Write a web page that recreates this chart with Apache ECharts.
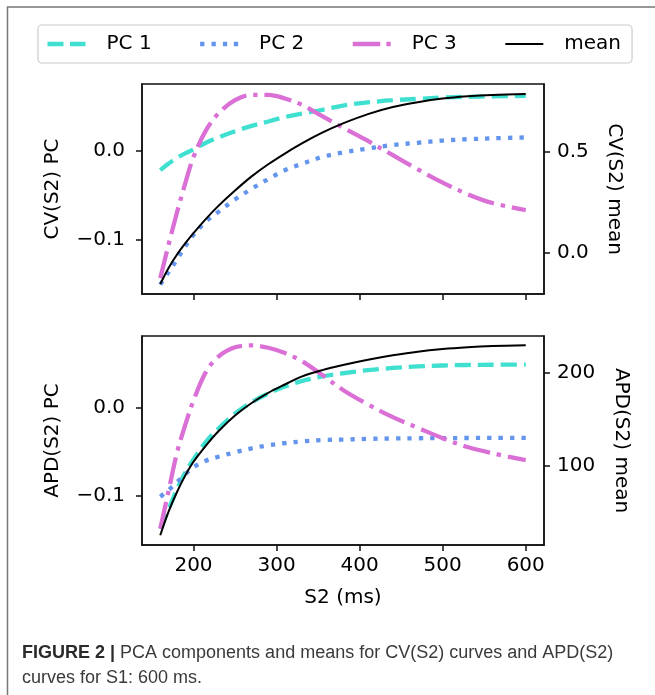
<!DOCTYPE html>
<html>
<head>
<meta charset="utf-8">
<script src="https://cdn.jsdelivr.net/npm/echarts@6/dist/echarts.min.js"></script>
<style>
  html, body { margin: 0; padding: 0; background: #fff; }
  #chart { width: 655px; height: 695px; }
</style>
</head>
<body>
<div id="chart"></div>
<script>
// S2 interval (ms) at which the curves are sampled
const s2 = [160, 170, 180, 190, 200, 215, 230, 250, 270, 290, 310, 330, 355, 380, 410, 440, 470, 500, 530, 560, 600];

// CV(S2): principal components (left axis) and mean curve (right axis)
const cvPC1 = [-0.022, -0.0145, -0.008, -0.003, 0.0015, 0.009, 0.015, 0.022, 0.028, 0.033, 0.038, 0.0418, 0.046, 0.051, 0.0545, 0.057, 0.0585, 0.060, 0.0608, 0.0614, 0.0618];
const cvPC2 = [-0.151, -0.137, -0.123, -0.108, -0.095, -0.080, -0.069, -0.055, -0.043, -0.032, -0.022, -0.015, -0.007, -0.002, 0.0025, 0.0065, 0.009, 0.0115, 0.013, 0.014, 0.015];
const cvPC3 = [-0.144, -0.106, -0.070, -0.037, -0.007, 0.023, 0.042, 0.057, 0.063, 0.063, 0.059, 0.052, 0.039, 0.026, 0.011, -0.005, -0.021, -0.036, -0.049, -0.059, -0.067];
const cvMean = [-0.155, -0.075, -0.010, 0.046, 0.097, 0.168, 0.232, 0.308, 0.378, 0.438, 0.491, 0.540, 0.594, 0.640, 0.686, 0.721, 0.745, 0.763, 0.774, 0.781, 0.786];

// APD(S2): principal components (left axis) and mean curve (right axis)
const apdPC1 = [-0.138, -0.116, -0.093, -0.074, -0.059, -0.039, -0.024, -0.007, 0.006, 0.016, 0.024, 0.030, 0.0355, 0.039, 0.0425, 0.045, 0.0468, 0.0478, 0.0484, 0.0487, 0.0489];
const apdPC2 = [-0.1015, -0.094, -0.085, -0.076, -0.068, -0.0605, -0.056, -0.051, -0.0465, -0.043, -0.0405, -0.0387, -0.037, -0.0365, -0.0357, -0.0352, -0.035, -0.0348, -0.0347, -0.0346, -0.0345];
const apdPC3 = [-0.138, -0.095, -0.052, -0.020, 0.008, 0.0405, 0.058, 0.0685, 0.0708, 0.068, 0.062, 0.053, 0.037, 0.020, 0.0035, -0.011, -0.023, -0.035, -0.045, -0.052, -0.060];
const apdMean = [24.5, 50, 71, 89, 104, 121.5, 137, 154, 167.5, 178.5, 187.5, 196, 203, 208.5, 214.2, 219, 223, 225.8, 227.7, 229, 230];

// tick labels
const xTicks = [200, 300, 400, 500, 600];
const pcTicks = [-0.1, 0.0];
const cvMeanTicks = [0.0, 0.5];
const apdMeanTicks = [100, 200];

const seriesNames = ['PC 1', 'PC 2', 'PC 3', 'mean'];

const FONT = 'DejaVu Sans';
const styles = {
  'PC 1': { color: '#40E0D0', width: 4.3, type: [16, 7] },
  'PC 2': { color: '#6495ED', width: 4.3, type: [4.3, 7.1] },
  'PC 3': { color: '#DA70D6', width: 4.3, type: [27.5, 6.9, 4.3, 6.9] },
  'mean': { color: '#000000', width: 2, type: 'solid' }
};

// legend handles: short samples of each line's dash pattern (38 x 4.3 box)
const legendIcons = {
  'PC 1': 'path://M0 0H16V4.3H0Z M22.5 0H38V4.3H22.5Z',
  'PC 2': 'path://M0 0H4.3V4.3H0Z M11.4 0H15.7V4.3H11.4Z M22.8 0H27.1V4.3H22.8Z M33.7 0H38V4.3H33.7Z',
  'PC 3': 'path://M0 0H27.5V4.3H0Z M33.7 0H38V4.3H33.7Z',
  'mean': 'path://M0 0L0.01 0L0.01 0.01Z M0 1.15H38V3.15H0Z M37.99 4.29L38 4.29L38 4.3Z'
};

function pairs(ys) { return s2.map((x, i) => [x, ys[i]]); }

function fmtDec(v) {
  const s = Math.abs(v).toFixed(1);
  return v < -1e-9 ? '\u2212' + s : s;
}

function makeSeries(name, data, gridIdx, yIdx) {
  const st = styles[name];
  return {
    name: name, type: 'line', xAxisIndex: gridIdx, yAxisIndex: yIdx,
    data: pairs(data), symbol: 'none', smooth: 0.35,
    itemStyle: { color: st.color },
    lineStyle: { color: st.color, width: st.width, type: st.type, cap: 'butt' },
    emphasis: { disabled: true },
    silent: true
  };
}

const labelText = { fontFamily: FONT, fontSize: 20, color: '#000' };
const axisLine = { show: true, onZero: false, lineStyle: { color: '#111', width: 1.5 } };

function xAxis(gridIdx, showLabels) {
  return {
    type: 'value', gridIndex: gridIdx, min: 138, max: 622,
    axisLine: axisLine,
    axisTick: { show: true, inside: false, length: 6, customValues: xTicks, lineStyle: { color: '#111', width: 1.5 } },
    axisLabel: Object.assign({ show: showLabels, margin: 11, customValues: xTicks }, labelText),
    splitLine: { show: false },
    name: showLabels ? 'S2 (ms)' : '',
    nameLocation: 'middle', nameGap: 43,
    nameTextStyle: labelText
  };
}

function yAxis(gridIdx, pos, min, max, ticks, fmt, name, gap, rot, margin) {
  return {
    type: 'value', gridIndex: gridIdx, position: pos, min: min, max: max,
    axisLine: axisLine,
    axisTick: { show: true, inside: false, length: 6, customValues: ticks, lineStyle: { color: '#111', width: 1.5 } },
    axisLabel: Object.assign({ margin: margin, customValues: ticks, formatter: fmt }, labelText),
    splitLine: { show: false },
    name: name, nameLocation: 'middle', nameGap: gap, nameRotate: rot,
    nameTextStyle: labelText
  };
}

const chart = echarts.init(document.getElementById('chart'), null, { renderer: 'canvas' });

chart.setOption({
  animation: false,
  backgroundColor: '#ffffff',
  grid: [
    { left: 142, top: 84, width: 402, height: 210, show: true, borderColor: '#111', borderWidth: 1.5, backgroundColor: 'transparent', outerBoundsMode: 'none' },
    { left: 142, top: 336, width: 402, height: 209, show: true, borderColor: '#111', borderWidth: 1.5, backgroundColor: 'transparent', outerBoundsMode: 'none' }
  ],
  legend: {
    data: seriesNames.map(n => ({ name: n, icon: legendIcons[n], itemStyle: { color: styles[n].color, borderWidth: 0 } })),
    left: 38, top: 25, orient: 'horizontal',
    itemWidth: 38, itemHeight: 4.3, itemGap: 48.5,
    padding: [9, 11, 9, 9.5],
    backgroundColor: 'rgba(255,255,255,0.8)', borderColor: '#cccccc', borderWidth: 1.2, borderRadius: 4,
    textStyle: { fontFamily: FONT, fontSize: 20, color: '#000', padding: [0, 0, 0, 16] },
    selectedMode: false
  },
  xAxis: [xAxis(0, false), xAxis(1, true)],
  yAxis: [
    yAxis(0, 'left', -0.1617, 0.0753, pcTicks, fmtDec, 'CV(S2) PC', 79, 90, 17),
    yAxis(0, 'right', -0.204, 0.835, cvMeanTicks, fmtDec, 'CV(S2) mean', 60, -90, 13),
    yAxis(1, 'left', -0.1565, 0.0814, pcTicks, fmtDec, 'APD(S2) PC', 79, 90, 17),
    yAxis(1, 'right', 14.0, 239.9, apdMeanTicks, v => String(Math.round(v)), 'APD(S2) mean', 67, -90, 13)
  ],
  series: [
    makeSeries('PC 1', cvPC1, 0, 0),
    makeSeries('PC 2', cvPC2, 0, 0),
    makeSeries('PC 3', cvPC3, 0, 0),
    makeSeries('mean', cvMean, 0, 1),
    makeSeries('PC 1', apdPC1, 1, 2),
    makeSeries('PC 2', apdPC2, 1, 2),
    makeSeries('PC 3', apdPC3, 1, 2),
    makeSeries('mean', apdMean, 1, 3)
  ],
  graphic: [
    {
      type: 'polyline', silent: true,
      shape: { points: [[7.5, 695], [7.5, 7], [655, 7]] },
      style: { stroke: '#777', lineWidth: 1.5, fill: null }
    },
    {
      type: 'text', left: 22, top: 644, silent: true,
      style: {
        text: '{b|FIGURE 2 |} PCA components and means for CV(S2) curves and APD(S2)',
        fontFamily: 'Liberation Sans', fontSize: 18, fill: '#3a3a3a',
        rich: { b: { fontFamily: 'Liberation Sans', fontSize: 18, fontWeight: 'bold', fill: '#2a2a2a' } }
      }
    },
    {
      type: 'text', left: 22, top: 669, silent: true,
      style: { text: 'curves for S1: 600 ms.', fontFamily: 'Liberation Sans', fontSize: 18, fill: '#3a3a3a' }
    }
  ]
});
</script>
</body>
</html>
